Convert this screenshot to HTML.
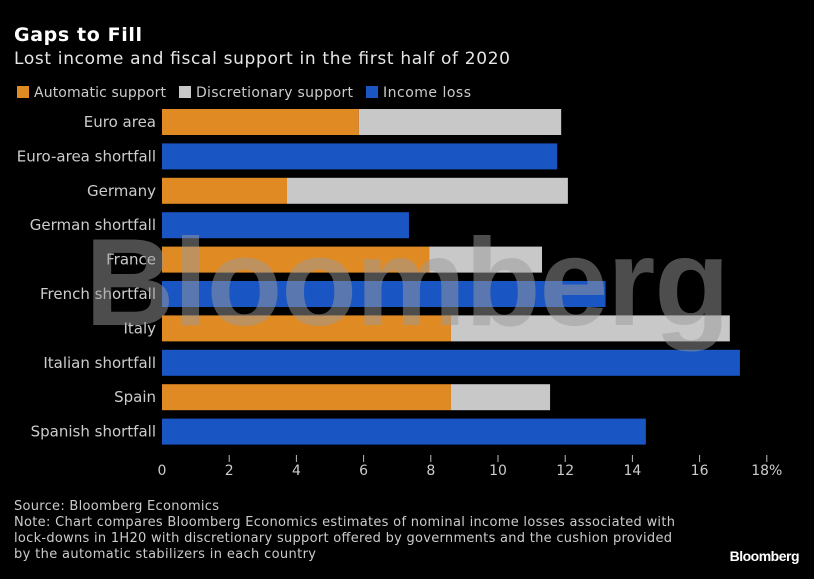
<!DOCTYPE html>
<html><head><meta charset="utf-8"><style>
body{margin:0;background:#000;width:814px;height:575px;overflow:hidden;font-family:"DejaVu Sans",sans-serif;}
svg text{font-family:"DejaVu Sans",sans-serif;}
</style></head><body>
<svg width="814" height="575" xmlns="http://www.w3.org/2000/svg">
<rect width="814" height="575" fill="#000"/>
<text x="14" y="41" fill="#fff" font-size="19" font-weight="bold" textLength="128">Gaps to Fill</text>
<text x="14" y="64" fill="#e6e6e6" font-size="17" textLength="496">Lost income and fiscal support in the first half of 2020</text>
<g font-size="14" fill="#ccc">
<rect x="17" y="86" width="12" height="12" fill="#e08a24"/>
<text x="34" y="97" textLength="132">Automatic support</text>
<rect x="179" y="86" width="12" height="12" fill="#c8c8c8"/>
<text x="196" y="97" textLength="157">Discretionary support</text>
<rect x="366" y="86" width="12" height="12" fill="#1a55c4"/>
<text x="383" y="97" textLength="88">Income loss</text>
</g>
<g id="bars"></g>
<g id="axis"></g>
<text x="85" y="325" font-size="124" font-weight="bold" fill="#9a9a9a" fill-opacity="0.5" textLength="645" style="font-family:'Liberation Sans',sans-serif">Bloomberg</text>
<g font-size="13" fill="#ccc">
<text x="14" y="510" textLength="205">Source: Bloomberg Economics</text>
<text x="14" y="526" textLength="661">Note: Chart compares Bloomberg Economics estimates of nominal income losses associated with</text>
<text x="14" y="542" textLength="658">lock-downs in 1H20 with discretionary support offered by governments and the cushion provided</text>
<text x="14" y="558" textLength="302">by the automatic stabilizers in each country</text>
</g>
<text x="799" y="561" text-anchor="end" fill="#fff" font-size="14" font-weight="bold" letter-spacing="-0.5" style="font-family:'Liberation Sans',sans-serif">Bloomberg</text>
</svg>
<script>
const categories=["Euro area","Euro-area shortfall","Germany","German shortfall","France","French shortfall","Italy","Italian shortfall","Spain","Spanish shortfall"];
const automatic=[5.86,null,3.72,null,7.95,null,8.6,null,8.6,null];
const discretionary=[6.02,null,8.36,null,3.36,null,8.3,null,2.95,null];
const incomeLoss=[null,11.76,null,7.35,null,13.2,null,17.2,null,14.4];
const ticks=[0,2,4,6,8,10,12,14,16,18];
const ns="http://www.w3.org/2000/svg";
const x=v=>162+v*33.6;
const yc=i=>122+i*34.4;
const bars=document.getElementById('bars'),axis=document.getElementById('axis');
function mk(tag,attrs,parent){const e=document.createElementNS(ns,tag);for(const k in attrs)e.setAttribute(k,attrs[k]);parent.appendChild(e);return e;}
categories.forEach((c,i)=>{
 const t=mk('text',{x:156,y:yc(i)+5,'text-anchor':'end','font-size':15,fill:'#ccc'},bars);
 t.textContent=c;
 
 
 const h=26,y=yc(i)-13;
 if(automatic[i]!=null){
  const r=mk('rect',{x:x(0),y:y,width:x(automatic[i])-x(0),height:h,fill:'#e08a24'},bars);
  
  
  const r2=mk('rect',{x:x(automatic[i]),y:y,width:x(automatic[i]+discretionary[i])-x(automatic[i]),height:h,fill:'#c8c8c8'},bars);
  
  
 }
 if(incomeLoss[i]!=null){
  const r=mk('rect',{x:x(0),y:y,width:x(incomeLoss[i])-x(0),height:h,fill:'#1a55c4'},bars);
  
  
 }
});
ticks.forEach((v,i)=>{
 if(v>0){const l=mk('line',{x1:x(v),x2:x(v),y1:455,y2:462,stroke:'#bbb','stroke-width':1},axis);
 
 }
 const t=mk('text',{x:x(v),y:475,'text-anchor':'middle','font-size':14,fill:'#ccc'},axis);
 t.textContent=v+(i===ticks.length-1?'%':'');
 
 
});
</script>
</body></html>
